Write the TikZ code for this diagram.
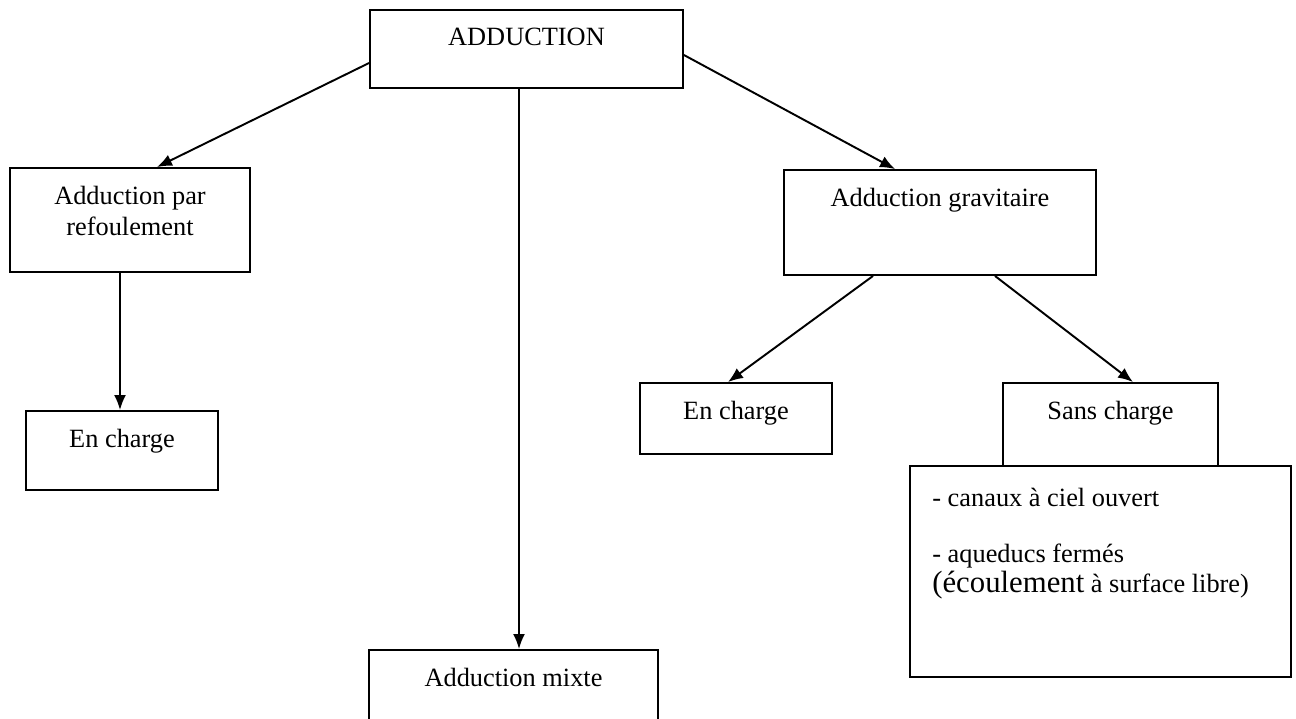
\documentclass[tikz,border=0pt]{standalone}
\usepackage{fontspec}
\setmainfont{Liberation Serif}
\usetikzlibrary{arrows.meta}

\begin{document}
\begin{tikzpicture}[x=0.02cm,y=-0.02cm,font=\fontsize{15}{17.5}\selectfont,
		boite/.style={draw,line width=1.1pt,inner sep=0pt},
		titre/.style={anchor=north,inner sep=0pt,yshift=-0.38cm,align=center},
		fleche/.style={line width=1.1pt,-{Latex[length=0.3cm,width=0.24cm]}}]
		\useasboundingbox (0,0) rectangle (1296,718);
		\clip (0,0) rectangle (1296,718);
		\node[boite,minimum width=6.26cm,minimum height=1.56cm,label={[titre]north:ADDUCTION}] (adduction) at (526.5,49) {};
		\node[boite,minimum width=4.8cm,minimum height=2.08cm,label={[titre]north:Adduction par\\refoulement}] (refoul) at (130,220) {};
		\node[boite,minimum width=6.24cm,minimum height=2.1cm,label={[titre]north:Adduction gravitaire}] (gravit) at (940,222.5) {};
		\node[boite,minimum width=3.84cm,minimum height=1.58cm,label={[titre]north:En charge}] (charge1) at (122,450.5) {};
		\node[boite,minimum width=3.84cm,minimum height=1.42cm,label={[titre]north:En charge}] (charge2) at (736,418.5) {};
		\node[boite,minimum width=4.3cm,minimum height=1.66cm,label={[titre]north:Sans charge}] (sans) at (1110.5,424.5) {};
		\node[boite,minimum width=7.62cm,minimum height=4.22cm] (detail) at (1100.5,571.5) {};
		\node[boite,minimum width=5.78cm,minimum height=2.2cm,label={[titre]north:Adduction mixte}] (mixte) at (513.5,705) {};
		% texte de la boite du bas
		\node[anchor=north west,align=left,inner sep=0pt] (liste) at (932,488)
			{- canaux à ciel ouvert\\[14pt]- aqueducs fermés\\{\fontsize{17.5}{18}\selectfont (écoulement} à surface libre)};
		% fleches
		\draw[fleche] ([yshift=-0.28cm]adduction.west) -- ([xshift=0.54cm]refoul.north);
		\draw[fleche] ([yshift=-0.12cm]adduction.east) -- ([xshift=-0.9cm]gravit.north);
		\draw[fleche] ([xshift=-0.15cm]adduction.south) -- ([xshift=-0.15cm]adduction.south |- mixte.north);
		\draw[fleche] ([xshift=-0.2cm]refoul.south) -- ([xshift=-0.2cm]refoul.south |- charge1.north);
		\draw[fleche] ([xshift=-1.34cm]gravit.south) -- ([xshift=-0.16cm]charge2.north);
		\draw[fleche] ([xshift=1.1cm]gravit.south) -- ([xshift=0.45cm]sans.north);
\end{tikzpicture}
\end{document}
